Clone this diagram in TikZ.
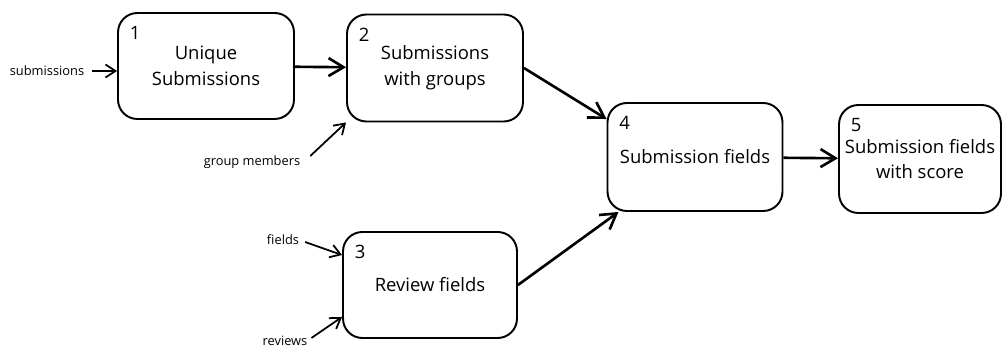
\documentclass[tikz,border=0pt]{standalone}
\usepackage{fontspec}
\setmainfont{Open Sans}
\usetikzlibrary{arrows.meta}
\begin{document}
\begin{tikzpicture}[x=0.02cm, y=-0.02cm,
    stagebox/.style={draw, line width=1.1pt, rounded corners=11pt, align=center, inner sep=2pt,
      font=\fontsize{10.5}{14.7}\selectfont},
    num/.style={inner sep=0pt, font=\fontsize{10.5}{12}\selectfont},
    src/.style={inner sep=1pt, font=\fontsize{7.3}{9}\selectfont},
    flow/.style={-{Straight Barb[length=3mm, width=3.6mm]}, line width=1.5pt},
    feed/.style={-{Straight Barb[length=2mm, width=2.6mm]}, line width=1pt}]
    \useasboundingbox (0,0) rectangle (1004,347);

    % stages
    \node[stagebox, minimum width=3.52cm, minimum height=2.12cm] (b1) at (206,66) {Unique\\Submissions};
    \node[stagebox, minimum width=3.52cm, minimum height=2.14cm] (b2) at (435,68) {Submissions\\with groups};
    \node[stagebox, minimum width=3.48cm, minimum height=2.12cm] (b3) at (430,285) {Review fields};
    \node[stagebox, minimum width=3.50cm, minimum height=2.16cm] (b4) at (695,157) {Submission fields};
    \node[stagebox, minimum width=3.24cm, minimum height=2.16cm] (b5) at (920,159) {Submission fields\\with score};
    \foreach \b/\n in {b1/1, b2/2, b3/3, b4/4, b5/5}
        \node[num] (n\n) at ([shift={(18,21)}]\b.north west) {\n};

    % inputs
    \node[src] (subs) at (47,71) {submissions};
    \node[src] (grp) at (252,162) {group members};
    \node[src] (flds) at (283,240) {fields};
    \node[src] (revs) at (285,341) {reviews};

    \draw[feed] ([xshift=1.2mm]subs.east) -- (subs -| b1.west);
    \draw[feed] ([shift={(8,-6)}]grp.east) -- (b2.south west);
    \draw[feed] ([shift={(4,2)}]flds.east) -- ([yshift=-4.8mm]b3.north west);
    \draw[feed] ([shift={(2,-3)}]revs.east) -- ([yshift=4.4mm]b3.south west);

    % flow between stages
    \draw[flow] (b1) -- (b2);
    \draw[flow] (b2.east) -- ([yshift=-3.4mm]b4.north west);
    \draw[flow] (b3.east) -- ([xshift=2.4mm]b4.south west);
    \draw[flow] (b4) -- (b5);
\end{tikzpicture}
\end{document}
